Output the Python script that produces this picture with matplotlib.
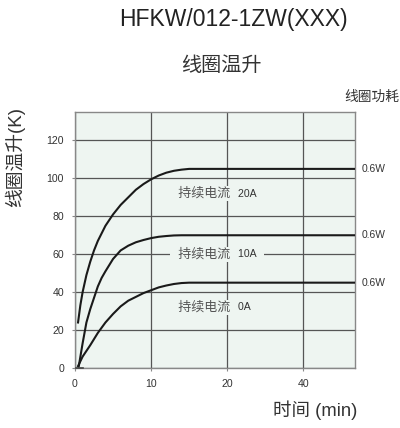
import numpy as np
import matplotlib
matplotlib.use("Agg")
import matplotlib.pyplot as plt
import matplotlib.transforms as mtransforms

plt.rcParams['font.family'] = ['Liberation Sans', 'Noto Sans CJK SC', 'DejaVu Sans']

# data (minutes, K)
t_20a = [0.4, 0.7, 1.0, 1.5, 2.0, 2.5, 3, 4, 5, 6, 7, 8, 9, 10, 11, 12, 13, 14, 15, 54]
y_20a = [24, 33, 40, 49, 56, 62, 67, 75, 81, 86, 90, 94, 97, 99.5, 101.5, 103, 104, 104.6, 105, 105]
t_10a = [0.5, 1.0, 1.5, 2, 2.5, 3, 3.5, 4, 5, 6, 7, 8, 9, 10, 11, 12, 13, 14, 54]
y_10a = [1, 13, 24, 31, 37, 43, 47.5, 51, 57.5, 62, 64.5, 66.3, 67.5, 68.5, 69.2, 69.6, 69.9, 70, 70]
t_0a = [0.4, 1, 2, 3, 4, 5, 6, 7, 8, 9, 10, 11, 12, 13, 14, 15, 54]
y_0a = [1, 6, 12, 18.5, 24, 28.5, 32.5, 35.5, 37.5, 39.5, 41, 42.5, 43.5, 44.3, 44.8, 45, 45]
series = [(t_20a, y_20a, '20A'), (t_10a, y_10a, '10A'), (t_0a, y_0a, '0A')]
label_y = [92, 60, 32]
power_labels = ['0.6W', '0.6W', '0.6W']
xticks = [0, 10, 20, 40]
yticks = [0, 20, 40, 60, 80, 100, 120]

bg = '#eef5f1'

def fwd(x):
    x = np.asarray(x, float)
    return np.where(x <= 20, x / 10, 2 + (x - 20) / 20)

def inv(u):
    u = np.asarray(u, float)
    return np.where(u <= 2, u * 10, 20 + (u - 2) * 20)

fig = plt.figure(figsize=(4, 4.28), dpi=100)
ax = fig.add_axes([0.1875, 0.1402, 0.70, 0.5981])
ax.set_facecolor(bg)
ax.set_xscale('function', functions=(fwd, inv))
ax.set_xlim(0, 53.6)
ax.set_ylim(0, 135)
ax.set_xticks(xticks)
ax.set_xticklabels([str(v) for v in xticks])
ax.set_yticks(yticks)
ax.grid(True, color='#555555', linewidth=0.9)
ax.set_axisbelow(True)
for s in ax.spines.values():
    s.set_color('#888888')
    s.set_linewidth(1.0)
ax.tick_params(axis='both', length=2, width=0.8, color='#888888',
               labelsize=7.6, labelcolor='#333333')
ax.tick_params(axis='y', pad=6)
ax.tick_params(axis='x', pad=6)
ax.plot([0.19, 1], [0, 0], transform=ax.get_xaxis_transform(),
        color='#444444', linewidth=1.2, clip_on=False, zorder=3)

bt = mtransforms.blended_transform_factory(ax.transAxes, ax.transData)
for (t, y, lab), ly, pw in zip(series, label_y, power_labels):
    ax.plot(t, y, color='#1a1a1a', linewidth=1.5, zorder=3)
    ax.text(1.025, y[-1], pw, transform=bt, fontsize=7.4, color='#333333',
            va='center', ha='left', clip_on=False)
    ax.text(0.582, ly, '  持续电流  ', transform=bt, fontsize=9.4, color='#555555',
            ha='right', va='center', zorder=4,
            bbox=dict(boxstyle='square,pad=0.1', fc=bg, ec='none'))
    ax.text(0.583, ly, lab + '  ', transform=bt, fontsize=7.6, color='#333333',
            ha='left', va='center', zorder=5,
            bbox=dict(boxstyle='square,pad=0.15', fc=bg, ec='none'))

ax.set_ylabel('线圈温升(K)', fontsize=13.5, color='#333333')
ax.yaxis.set_label_coords(-0.179, 0.824)

fig.text(0.5825, 0.9556, 'HFKW/012-1ZW(XXX)', fontsize=16.5, color='#222222',
         ha='center', va='center')
fig.text(0.5525, 0.848, '线圈温升', fontsize=14.5, color='#333333',
         ha='center', va='center')
fig.text(0.93, 0.773, '线圈功耗', fontsize=9.9, color='#333333',
         ha='center', va='center')
fig.text(0.7875, 0.042, '时间 (min)', fontsize=13.3, color='#333333',
         ha='center', va='center')

fig.savefig('out.png', dpi=100, facecolor='white')
